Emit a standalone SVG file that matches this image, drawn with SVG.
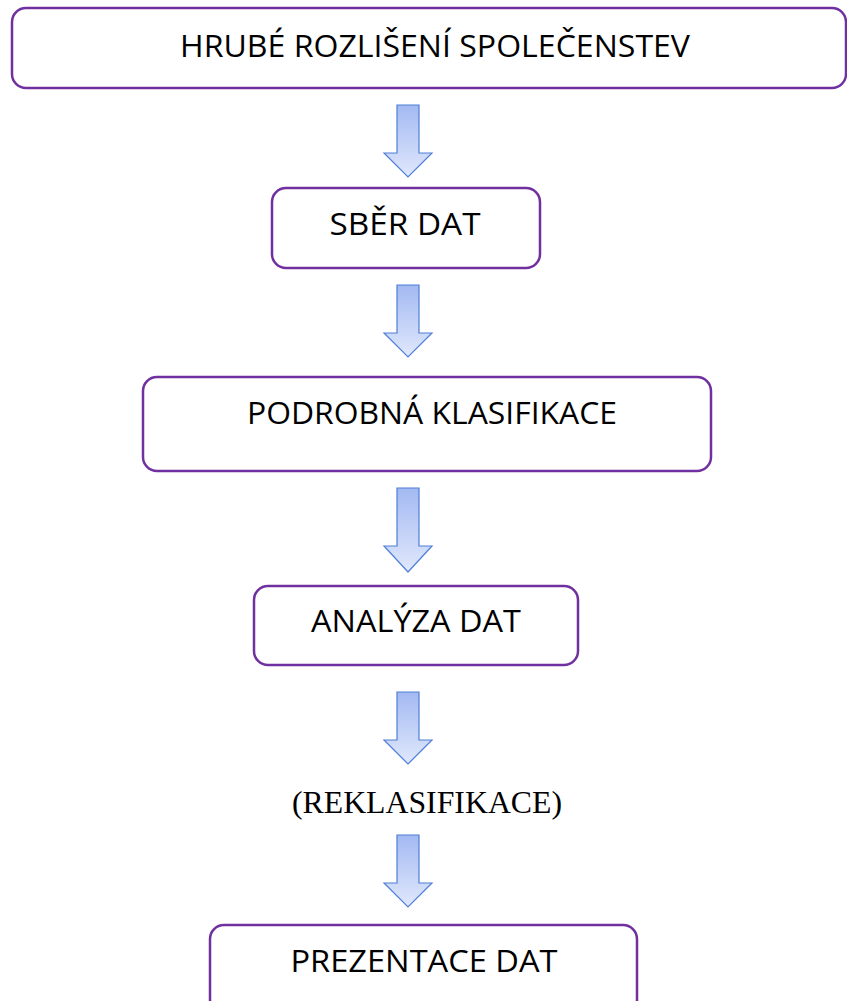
<svg xmlns="http://www.w3.org/2000/svg" width="847" height="1001" viewBox="0 0 847 1001">
<style>
.box{fill:#fff;stroke:#7030a0;stroke-width:2.5}
.lbl{font-family:"Open Sans","DejaVu Sans",sans-serif;font-size:31px;fill:#000;text-anchor:middle}
.ser{font-family:"Liberation Serif",serif;font-size:31px;fill:#000;text-anchor:middle}
.arr{fill:url(#g);stroke:#4f7fd6;stroke-width:1.2}
</style>
<defs>
<linearGradient id="g" x1="0" y1="0" x2="0" y2="1">
<stop offset="0" stop-color="#a3b9f2"/>
<stop offset="1" stop-color="#e0e8fc"/>
</linearGradient>
</defs>
<rect width="847" height="1001" fill="#fff"/>
<g id="connectors">
<path class="arr" d="M397,105 H419 V153 H432 L408,177 L384,153 H397 Z"/>
<path class="arr" d="M397,285 H419 V333 H432 L408,357 L384,333 H397 Z"/>
<path class="arr" d="M397,488 H419 V546 H432 L408,572 L384,546 H397 Z"/>
<path class="arr" d="M397,692 H419 V740 H432 L408,764 L384,740 H397 Z"/>
<path class="arr" d="M397,835 H419 V883 H432 L408,907 L384,883 H397 Z"/>
</g>
<g id="n1"><rect class="box" x="12" y="8" width="834" height="80" rx="14"/><text class="lbl" x="435" y="57" textLength="510" lengthAdjust="spacingAndGlyphs">HRUBÉ ROZLIŠENÍ SPOLEČENSTEV</text></g>
<g id="n2"><rect class="box" x="272" y="188" width="268" height="80" rx="14"/><text class="lbl" x="405" y="235" textLength="151" lengthAdjust="spacingAndGlyphs">SBĚR DAT</text></g>
<g id="n3"><rect class="box" x="143" y="377" width="568" height="94" rx="14"/><text class="lbl" x="432" y="424" textLength="370" lengthAdjust="spacingAndGlyphs">PODROBNÁ KLASIFIKACE</text></g>
<g id="n4"><rect class="box" x="254" y="586" width="324" height="79" rx="14"/><text class="lbl" x="416" y="632" textLength="210" lengthAdjust="spacingAndGlyphs">ANALÝZA DAT</text></g>
<g id="n5"><text class="ser" x="427" y="813" textLength="270" lengthAdjust="spacingAndGlyphs">(REKLASIFIKACE)</text></g>
<g id="n6"><rect class="box" x="210" y="925" width="427" height="90" rx="14"/><text class="lbl" x="424" y="972" textLength="267" lengthAdjust="spacingAndGlyphs">PREZENTACE DAT</text></g>
</svg>
